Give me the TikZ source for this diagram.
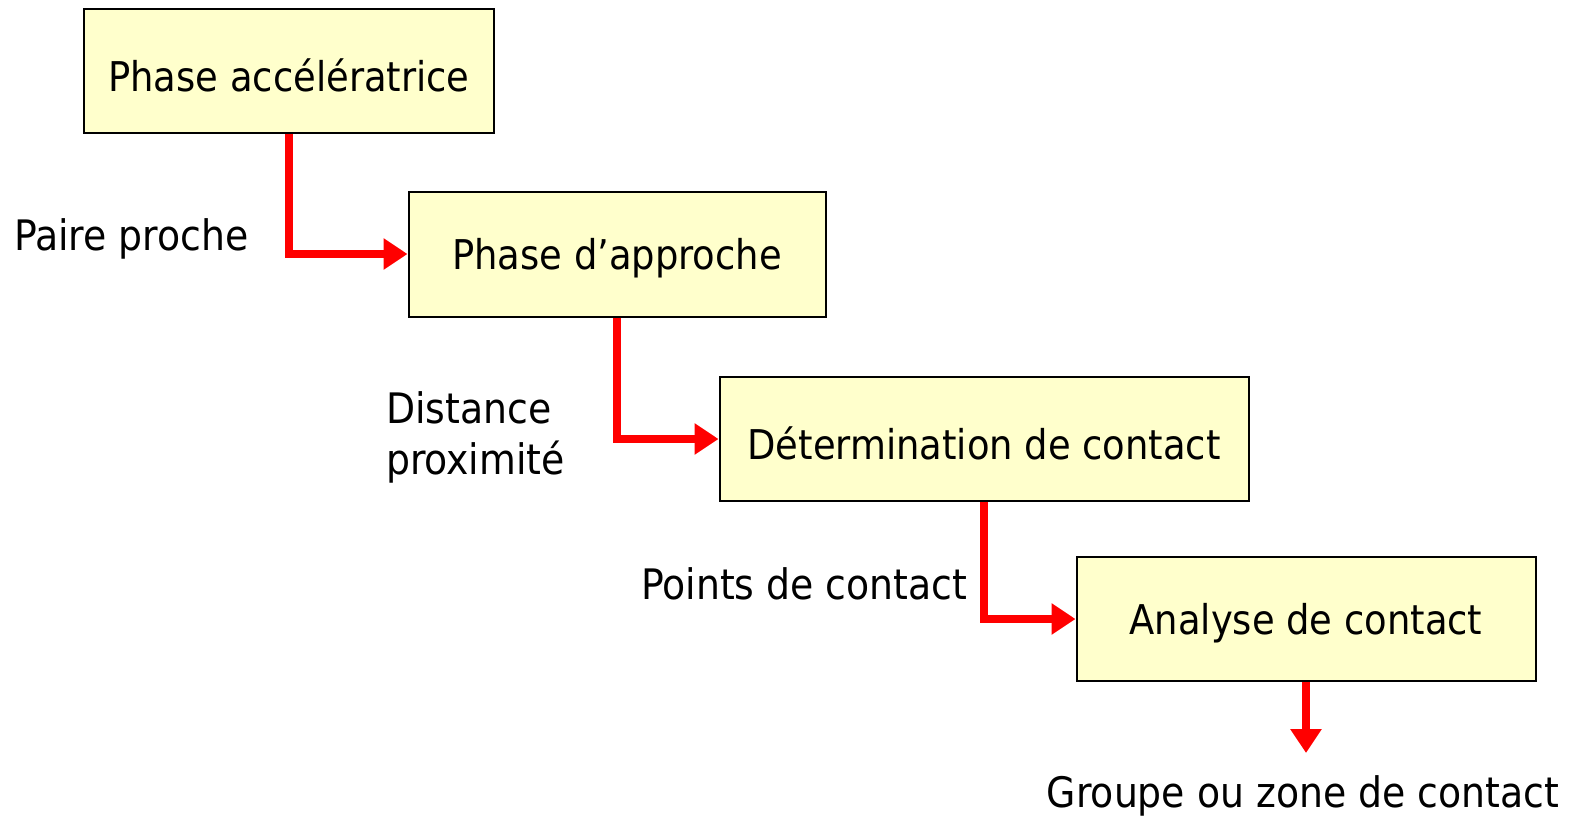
\documentclass[tikz,border=0pt]{standalone}
\usepackage{fontspec}
\setmainfont{DejaVu Sans Condensed}
\usetikzlibrary{arrows.meta}
\definecolor{boxfill}{HTML}{FFFFCC}
\newcommand{\lowtext}[1]{\raisebox{-4pt}[\height][\depth]{#1}}
\tikzset{
  stage/.style={draw=black, line width=2pt, fill=boxfill, inner sep=0pt, font=\fontsize{41}{48}\selectfont},
  flow/.style={draw=red, line width=8pt, -{Triangle[length=24pt,width=30pt]}},
  lbl/.style={font=\fontsize{42}{51}\selectfont, inner sep=0pt, align=left}
}
\begin{document}
\begin{tikzpicture}[x=1pt,y=-1pt]
\useasboundingbox (0,0) rectangle (1573,816);
\node[stage, minimum width=410pt, minimum height=124pt] (b1) at (289,71) {\lowtext{Phase accélératrice}};
\node[stage, minimum width=417pt, minimum height=125pt] (b2) at (617,254) {\lowtext{Phase d’approche}};
\node[stage, minimum width=529pt, minimum height=124pt] (b3) at (984,439) {\lowtext{Détermination de contact}};
\node[stage, minimum width=459pt, minimum height=124pt] (b4) at (1306,619) {\lowtext{Analyse de contact}};
\coordinate (c4) at (1306,753);
\draw[flow] (b1.south) |- (b2.west);
\draw[flow] (b2.south) |- (b3.west);
\draw[flow] (b3.south) |- (b4.west);
\draw[flow] (b4.south) -- (c4);
\node[lbl, anchor=west] (l1) at (14,239) {Paire proche};
\node[lbl, anchor=west] (l2) at (386,437) {Distance\\proximité};
\node[lbl, anchor=west] (l3) at (641,584) {Points de contact};
\node[lbl, anchor=center] (l4) at (1303,796) {Groupe ou zone de contact};
\end{tikzpicture}
\end{document}
